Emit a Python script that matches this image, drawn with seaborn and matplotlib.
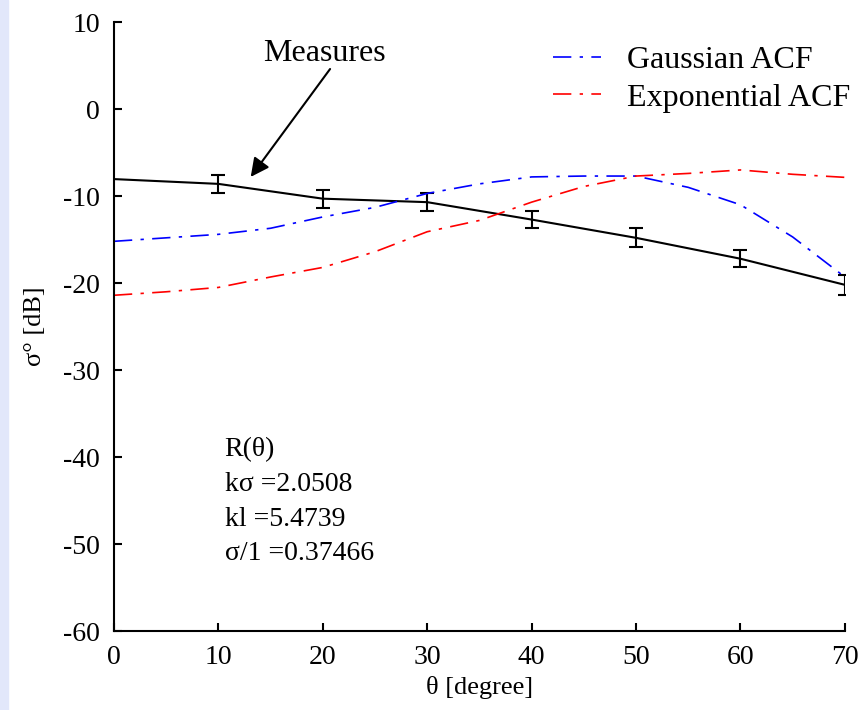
import numpy as np
import pandas as pd
import seaborn as sns
import matplotlib.pyplot as plt
from matplotlib.patches import Rectangle

# angulos (graus) e valores
theta_meas = [0, 10, 20, 30, 40, 50, 60, 70]
measures = [-8.05, -8.6, -10.3, -10.7, -12.7, -14.8, -17.2, -20.2]
err_theta = [10, 20, 30, 40, 50, 60, 70]
err_vals = [-8.6, -10.3, -10.7, -12.7, -14.8, -17.2, -20.2]
err_size = [1.0, 1.05, 1.0, 0.95, 1.1, 1.0, 1.15]

theta_model = [0, 5, 10, 15, 20, 25, 30, 35, 40, 45, 50, 55, 60, 65, 70]
gaussian = [-15.2, -14.8, -14.4, -13.7, -12.4, -11.3, -9.7, -8.6, -7.8,
            -7.7, -7.7, -9.0, -11.0, -14.7, -19.3]
exponential = [-21.4, -21.0, -20.5, -19.3, -18.2, -16.4, -14.1, -12.8, -10.7,
               -8.9, -7.7, -7.4, -7.0, -7.5, -7.85]

x_ticks = [0, 10, 20, 30, 40, 50, 60, 70]
y_ticks = [10, 0, -10, -20, -30, -40, -50, -60]

df_meas = pd.DataFrame({'theta': theta_meas, 'sigma': measures})
df_model = pd.DataFrame({'theta': theta_model,
                         'Gaussian ACF': gaussian,
                         'Exponential ACF': exponential})

sns.set_theme(style="ticks")
plt.rcParams['font.family'] = ['Liberation Serif', 'DejaVu Serif']
plt.rcParams['axes.linewidth'] = 1.5
for k in ['text.color', 'axes.labelcolor', 'xtick.color', 'ytick.color',
          'axes.edgecolor']:
    plt.rcParams[k] = 'black'

fig = plt.figure(figsize=(8.63, 7.10), dpi=100)
fig.patches.append(Rectangle((0, 0), 0.009, 1, transform=fig.transFigure,
                             color='#e2e7fa', zorder=-1))
ax = fig.add_axes([0.132, 0.111, 0.847, 0.858])

sns.lineplot(data=df_meas, x='theta', y='sigma', color='black', lw=1.5, ax=ax)
ax.errorbar(err_theta, err_vals, yerr=err_size, fmt='none', ecolor='black',
            elinewidth=1.5, capsize=5, capthick=1.5)

sns.lineplot(data=df_model, x='theta', y='Gaussian ACF', color='blue', lw=1.2,
             ax=ax, label='Gaussian ACF', linestyle=(0, (11, 5, 2, 5)))
sns.lineplot(data=df_model, x='theta', y='Exponential ACF', color='red', lw=1.2,
             ax=ax, label='Exponential ACF', linestyle=(0, (11, 5, 2, 5)))

ax.set_xlim(0, 70)
ax.set_ylim(-60, 10)
ax.set_xticks(x_ticks)
ax.set_yticks(y_ticks)
ax.set_xticklabels([str(t) for t in x_ticks])
ax.set_yticklabels([str(t) for t in y_ticks])
ax.tick_params(direction='in', length=6, width=1.5, labelsize=20, pad=10)
sns.despine(ax=ax)

ax.set_xlabel('θ [degree]', fontsize=19, labelpad=4)
ax.set_ylabel('σ° [dB]', fontsize=19, labelpad=12)

leg = ax.legend(loc='upper right', bbox_to_anchor=(1.046, 1.008), frameon=False,
                fontsize=23, handlelength=1.5, handletextpad=0.8,
                labelspacing=0.25)

ax.text(20.2, 6.35, 'Measures', ha='center', va='center', fontsize=23)
ax.annotate('', xy=(13.1, -7.8), xytext=(20.7, 4.6),
            arrowprops=dict(arrowstyle='-|>', color='black', lw=1.5,
                            mutation_scale=28, shrinkA=0, shrinkB=0))

ax.text(10.6, -37.75, 'R(θ)\nkσ =2.0508\nkl =5.4739\nσ/1 =0.37466',
        fontsize=20, va='top', ha='left', linespacing=1.5)

fig.savefig('out.png', dpi=100)
